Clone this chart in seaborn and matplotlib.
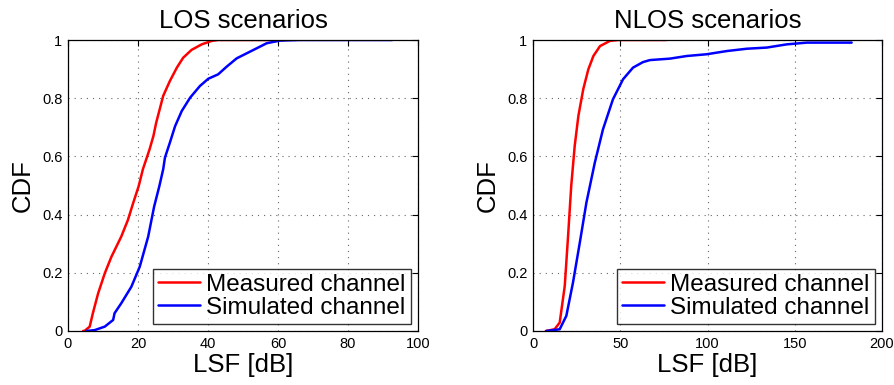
import matplotlib
matplotlib.use("Agg")
import matplotlib.pyplot as plt
import seaborn as sns
import pandas as pd

# LOS scenarios
los_meas_x = [4.3, 4.8, 6.2, 7.1, 8.6, 10.5, 12.4, 15.2, 17.1, 18.6, 20.2, 21.4, 23.3, 24.4, 25.2,
              27.2, 29.1, 31.1, 32.9, 35.3, 38.2, 41.1, 42.9, 47.2, 55.0, 62.0]
los_meas_y = [0.0, 0.001, 0.015, 0.061, 0.129, 0.198, 0.255, 0.324, 0.381, 0.439, 0.498, 0.556, 0.624, 0.670, 0.716,
              0.808, 0.859, 0.905, 0.939, 0.966, 0.985, 0.997, 1.0, 1.0, 1.0, 1.0]
los_sim_x = [5.2, 7.6, 10.5, 12.9, 13.3, 15.2, 18.1, 20.5, 22.9, 24.6, 26.1, 27.2, 27.7, 29.1, 30.6, 32.5,
             34.9, 37.7, 40.1, 42.9, 45.3, 48.2, 53.0, 56.8, 60.6, 66.3, 80.0, 92.6]
los_sim_y = [0.0, 0.003, 0.015, 0.038, 0.061, 0.095, 0.152, 0.221, 0.324, 0.427, 0.498, 0.556, 0.596, 0.647, 0.704, 0.756,
             0.802, 0.842, 0.867, 0.882, 0.908, 0.937, 0.966, 0.989, 0.998, 1.0, 1.0, 1.0]

# NLOS scenarios
nlos_meas_x = [7.3, 12.4, 15.3, 18.2, 20.1, 21.9, 23.9, 26.0, 28.8, 31.7, 34.6, 38.4, 44.1, 48.9, 60.0, 76.4]
nlos_meas_y = [0.0, 0.006, 0.029, 0.155, 0.326, 0.498, 0.636, 0.739, 0.831, 0.899, 0.945, 0.979, 0.997, 1.0, 1.0, 1.0]
nlos_sim_x = [7.6, 15.3, 19.1, 22.9, 26.8, 30.6, 35.4, 40.1, 45.8, 51.6, 57.3, 63.0, 67.0, 78.5, 88.1,
              99.5, 111.0, 122.5, 134.0, 145.4, 156.9, 164.5, 182.6]
nlos_sim_y = [0.0, 0.006, 0.052, 0.166, 0.303, 0.441, 0.578, 0.693, 0.796, 0.865, 0.905, 0.924, 0.931, 0.936, 0.945,
              0.951, 0.962, 0.970, 0.974, 0.985, 0.991, 0.991, 0.991]

series_names = ["Measured channel", "Simulated channel"]
titles = ["LOS scenarios", "NLOS scenarios"]
x_ticks = [[0, 20, 40, 60, 80, 100], [0, 50, 100, 150, 200]]
y_ticks = [0, 0.2, 0.4, 0.6, 0.8, 1]
y_ticklabels = ["0", "0.2", "0.4", "0.6", "0.8", "1"]

sns.set_style("white")
plt.rcParams["font.family"] = ["Liberation Sans", "DejaVu Sans"]
plt.rcParams["text.color"] = "black"
plt.rcParams["axes.labelcolor"] = "black"


def make_df(mx, my, sx, sy):
    return pd.concat([
        pd.DataFrame({"x": mx, "y": my, "s": series_names[0]}),
        pd.DataFrame({"x": sx, "y": sy, "s": series_names[1]}),
    ], ignore_index=True)


dfs = [make_df(los_meas_x, los_meas_y, los_sim_x, los_sim_y),
       make_df(nlos_meas_x, nlos_meas_y, nlos_sim_x, nlos_sim_y)]

fig = plt.figure(figsize=(8.94, 3.85), dpi=100)
axes = [fig.add_axes([68/894, 54/385, 350/894, 291/385]),
        fig.add_axes([533/894, 54/385, 349/894, 291/385])]

for i, ax in enumerate(axes):
    sns.lineplot(data=dfs[i], x="x", y="y", hue="s", palette=["#ff0000", "#0000ff"],
                 linewidth=1.8, ax=ax, sort=False, estimator=None)
    ax.set_xlim(x_ticks[i][0], x_ticks[i][-1])
    ax.set_ylim(0, 1)
    ax.set_xticks(x_ticks[i])
    ax.set_xticklabels([str(t) for t in x_ticks[i]])
    ax.set_yticks(y_ticks)
    ax.set_yticklabels(y_ticklabels)
    ax.grid(True, linestyle=(0, (1, 4.5)), color="#666666", linewidth=0.8)
    ax.tick_params(direction="in", length=4, width=0.8, top=True, right=True,
                   labelsize=10.5, colors="black", pad=4)
    for sp in ax.spines.values():
        sp.set_visible(True)
        sp.set_color("black")
        sp.set_linewidth(0.9)
    ax.set_title(titles[i], fontsize=18.5, pad=9)
    ax.set_xlabel("LSF [dB]", fontsize=18.5, labelpad=2)
    ax.set_ylabel("CDF", fontsize=18.5, labelpad=5)
    leg = ax.legend(loc="lower right", fontsize=17.5, frameon=True, fancybox=False,
                    edgecolor="black", handlelength=1.75, borderpad=0.2,
                    labelspacing=0.05, handletextpad=0.25, borderaxespad=0.3)
    leg.get_frame().set_linewidth(1.0)
    leg.set_title(None)

fig.savefig("out.png", dpi=100)
